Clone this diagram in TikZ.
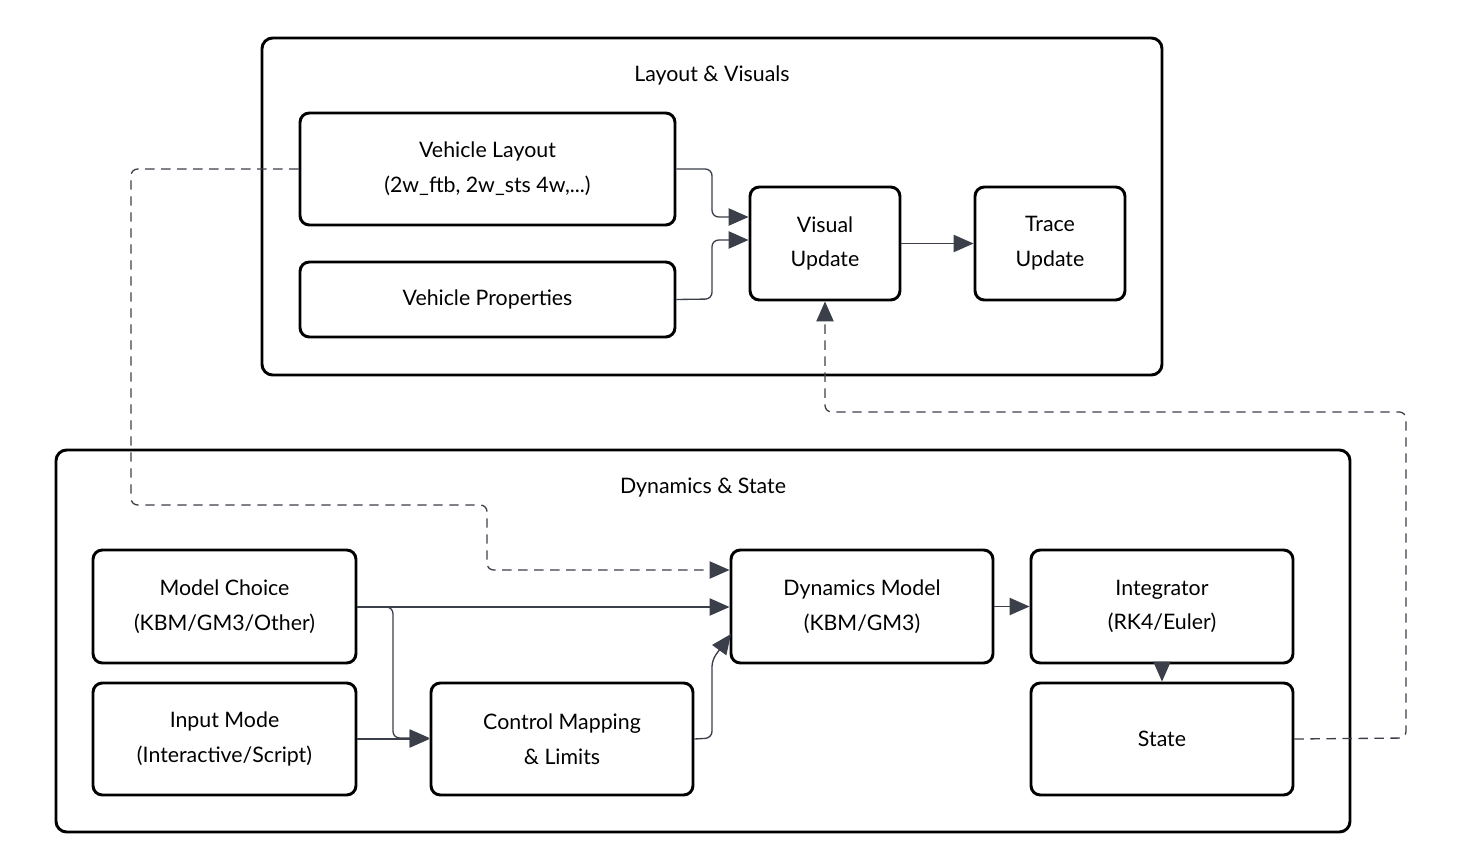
\documentclass[tikz,border=0pt]{standalone}
\usepackage{fontspec}
\setmainfont{Lato}
\usetikzlibrary{arrows.meta}
\definecolor{ln}{HTML}{3A3F4A}
\begin{document}
\begin{tikzpicture}[x=0.75pt,y=-0.75pt,
  box/.style={draw=black,line width=2.2pt,rounded corners=7pt,inner sep=0pt,align=center,font=\fontsize{16}{26}\selectfont},
  grp/.style={draw=black,line width=2.2pt,rounded corners=8pt},
  ttl/.style={font=\fontsize{16}{20}\selectfont},
  con/.style={draw=ln,line width=1pt,rounded corners=5pt,-{Triangle[length=15pt,width=13pt,fill=ln]}},
  dcon/.style={con,dash pattern=on 7pt off 5pt}]
\useasboundingbox (0,0) rectangle (1481,863);
\draw[grp] (262,38) rectangle (1162,375);
\node[ttl] (t1) at (712,75) {Layout \& Visuals};
\draw[grp] (56,450) rectangle (1350,832);
\node[ttl] (t2) at (703,488) {Dynamics \& State};
\node[box,minimum width=375*0.75pt,minimum height=112*0.75pt] (vl) at (487.5,169) {Vehicle Layout\\(2w\_ftb, 2w\_sts 4w,...)};
\node[box,minimum width=375*0.75pt,minimum height=75*0.75pt] (vp) at (487.5,299.5) {Vehicle Properties};
\node[box,minimum width=150*0.75pt,minimum height=113*0.75pt] (vu) at (825,243.5) {Visual\\Update};
\node[box,minimum width=150*0.75pt,minimum height=113*0.75pt] (tu) at (1050,243.5) {Trace\\Update};
\node[box,minimum width=263*0.75pt,minimum height=113*0.75pt] (mc) at (224.5,606.5) {Model Choice\\(KBM/GM3/Other)};
\node[box,minimum width=263*0.75pt,minimum height=112*0.75pt] (im) at (224.5,739) {Input Mode\\(Interactive/Script)};
\node[box,minimum width=262*0.75pt,minimum height=112*0.75pt] (cm) at (562,739) {Control Mapping\\\& Limits};
\node[box,minimum width=262*0.75pt,minimum height=113*0.75pt] (dm) at (862,606.5) {Dynamics Model\\(KBM/GM3)};
\node[box,minimum width=262*0.75pt,minimum height=113*0.75pt] (ig) at (1162,606.5) {Integrator\\(RK4/Euler)};
\node[box,minimum width=262*0.75pt,minimum height=112*0.75pt] (st) at (1162,739) {State};
\draw[con] (vl.east) -- (712,169) -- (712,217) -- (vu.west|-0,217);
\draw[con] (vp.east) -- (712,299) -- (712,240) -- (vu.west|-0,240);
\draw[con] (vu.east) -- (tu.west);
\draw[dcon] (vl.west) -- (131,169) -- (131,505) -- (487,505) -- (487,570) -- (dm.west|-0,570);
\draw[dcon] (st.east) -- (1406,738) -- (1406,412) -- (825,412) -- (vu.south);
\draw[con] (mc.east|-0,607) -- (dm.west|-0,607);
\draw[con] (mc.east|-0,607) -- (393,607) -- (393,738) -- (cm.west|-0,738);
\draw[con] (im.east) -- (cm.west);
\draw[con] (cm.east) -- (712,738) -- (712,660) -- (731,634);
\draw[con] (dm.east) -- (ig.west);
\draw[con] (ig.south) -- (st.north);
\end{tikzpicture}
\end{document}
